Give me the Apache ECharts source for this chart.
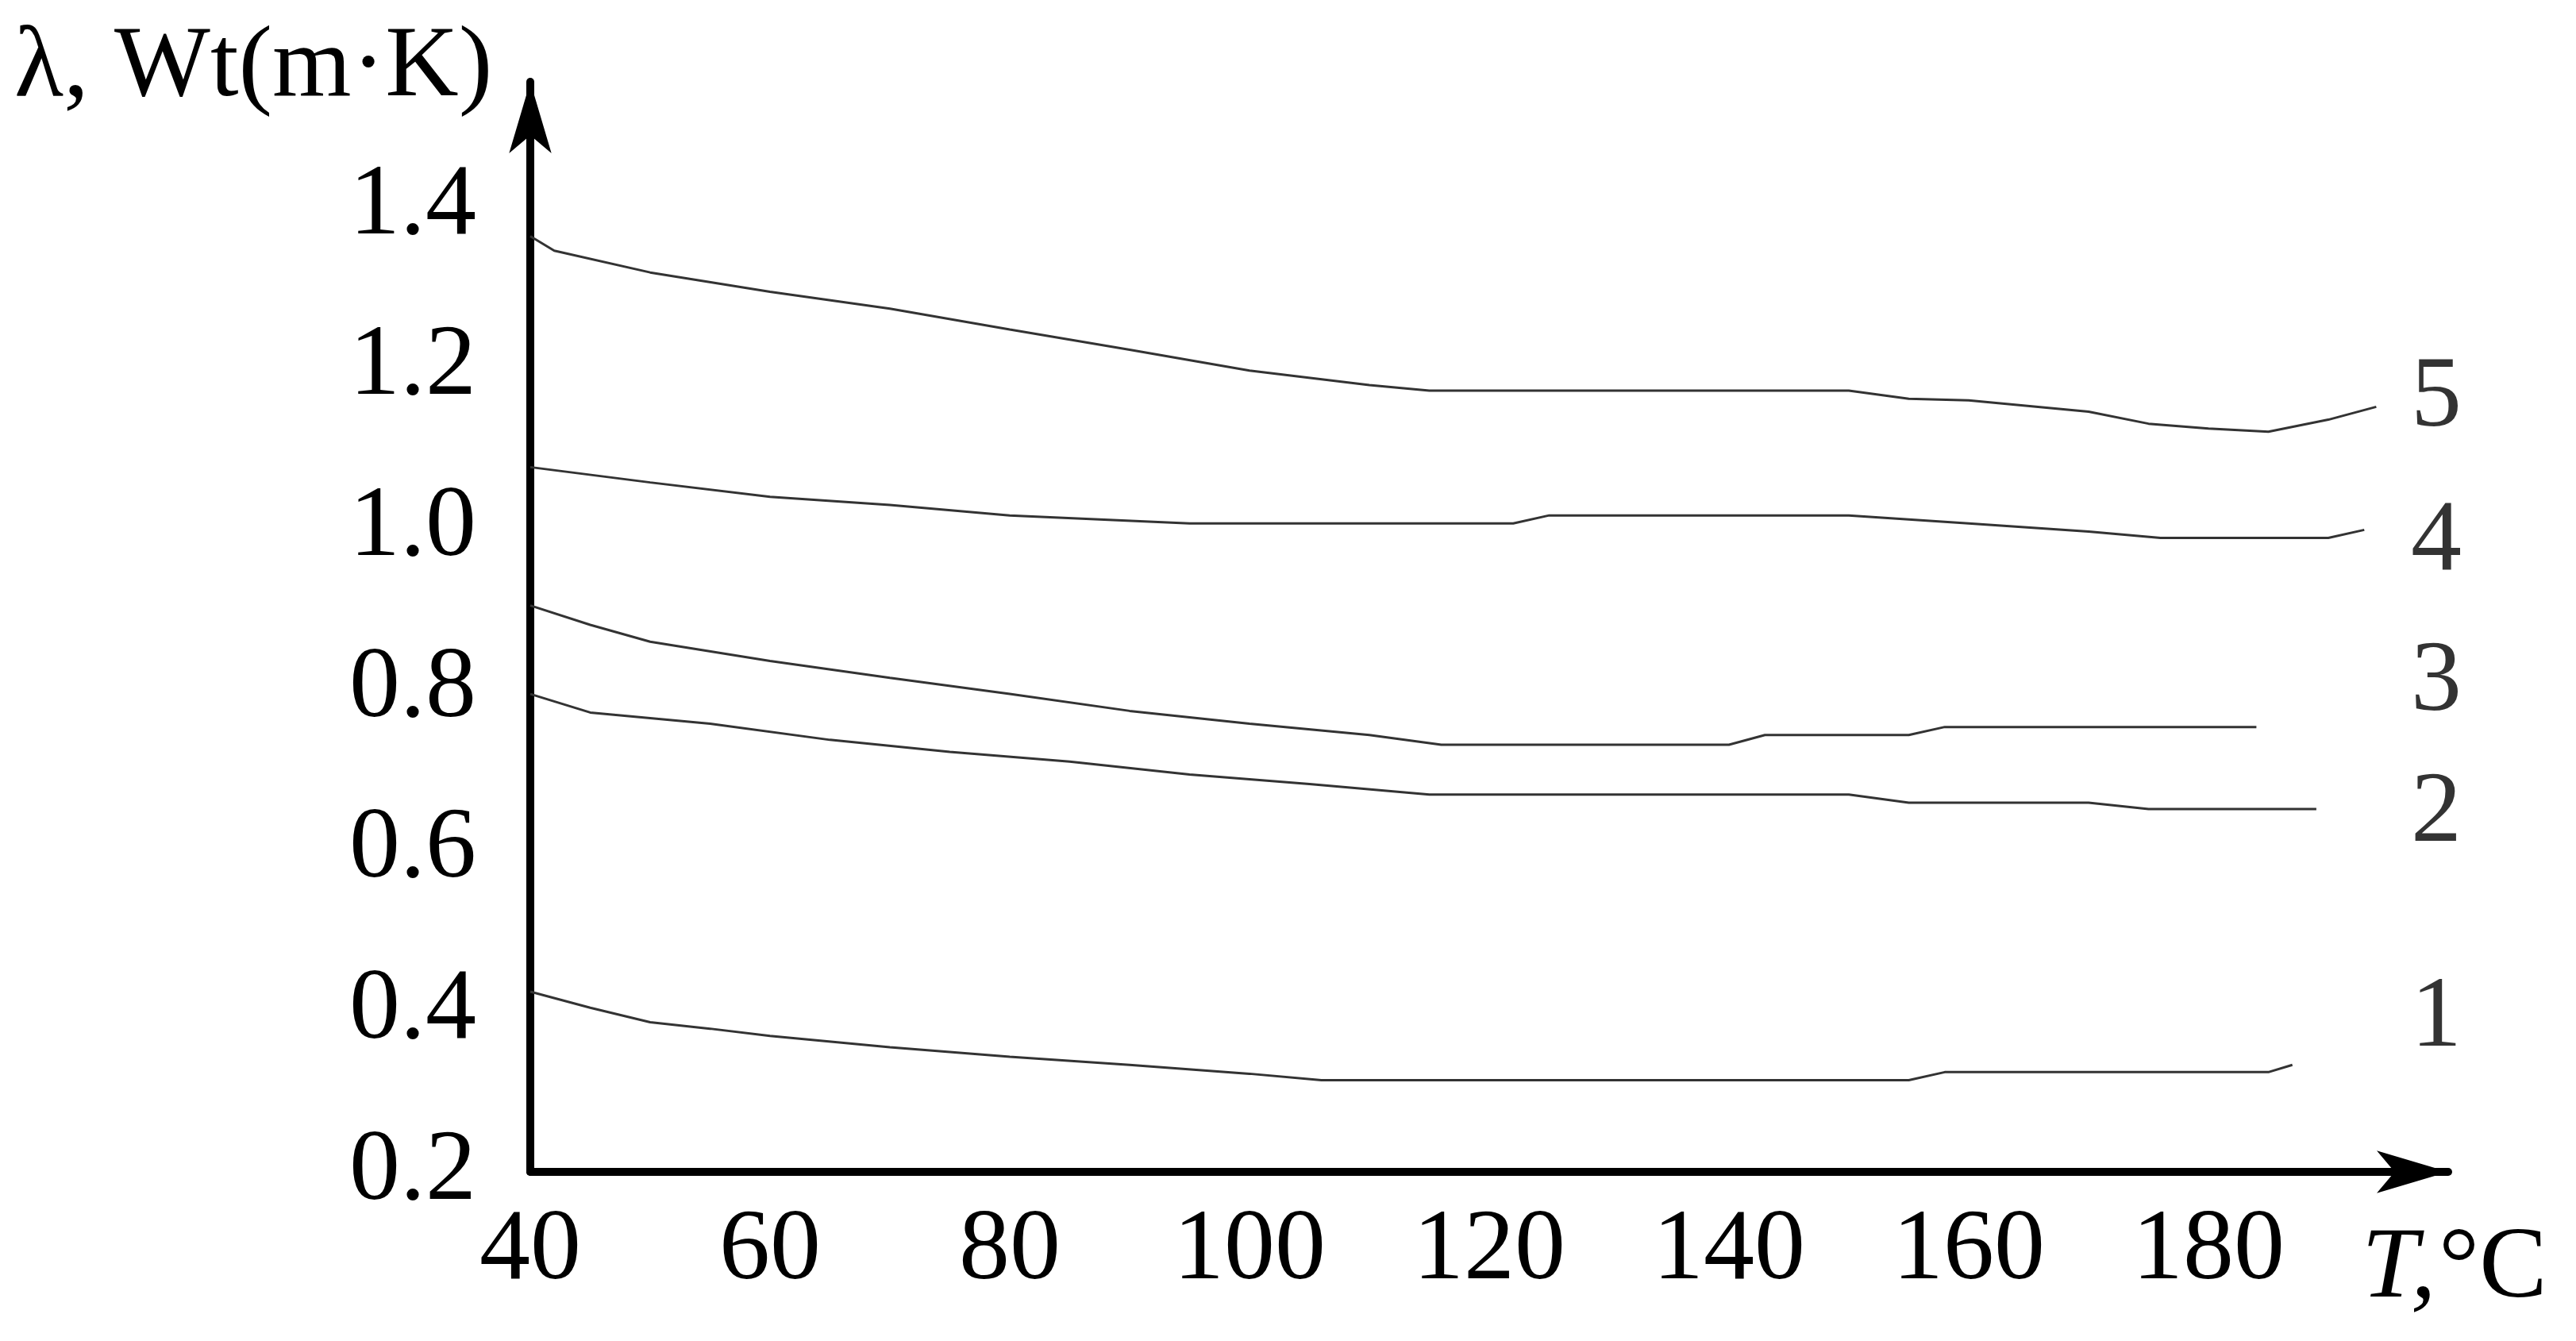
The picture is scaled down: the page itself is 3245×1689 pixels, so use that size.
<!DOCTYPE html>
<html><head><meta charset="utf-8">
<script src="https://cdn.jsdelivr.net/npm/echarts@6/dist/echarts.min.js"></script>
<style>html,body{margin:0;background:#fff}#c{width:3245px;height:1689px}</style>
</head><body><div id="c"></div>
<script>
const curve1 = [[40,0.424],[45,0.404],[50,0.386],[55,0.378],[60,0.369],[70,0.355],[80,0.343],[90,0.333],[100,0.322],[106,0.314],[155,0.314],[158,0.324],[185,0.324],[187,0.333]];
const curve2 = [[40,0.794],[45,0.771],[55,0.757],[65,0.737],[75,0.722],[85,0.71],[95,0.694],[105,0.682],[115,0.669],[150,0.669],[155,0.659],[170,0.659],[175,0.651],[189,0.651]];
const curve3 = [[40,0.904],[45,0.88],[50,0.859],[60,0.835],[70,0.814],[80,0.794],[90,0.773],[100,0.757],[110,0.743],[116,0.731],[140,0.731],[143,0.743],[155,0.743],[158,0.753],[184,0.753]];
const curve4 = [[40,1.076],[50,1.057],[60,1.039],[70,1.029],[80,1.016],[95,1.006],[122,1.006],[125,1.016],[150,1.016],[160,1.006],[170,0.996],[176,0.988],[190,0.988],[193,0.998]];
const curve5 = [[40,1.363],[42,1.345],[50,1.318],[60,1.294],[70,1.273],[80,1.247],[90,1.222],[100,1.196],[110,1.178],[115,1.171],[150,1.171],[155,1.161],[160,1.159],[170,1.145],[175,1.13],[180,1.124],[185,1.12],[190,1.135],[194,1.151]];
const curveLabels = [[199,1.161,'5'],[199,0.982,'4'],[199,0.808,'3'],[199,0.645,'2'],[199,0.39,'1']];
const xTicks = [40,60,80,100,120,140,160,180];
const yTicks = [0.2,0.4,0.6,0.8,1.0,1.2,1.4];

const font = 'Liberation Serif';
const chart = echarts.init(document.getElementById('c'));
const lineS = d => ({type:'line',data:d,symbol:'none',lineStyle:{color:'#333',width:3},silent:true});
chart.setOption({
  animation:false,
  grid:{left:668,right:161,top:103,bottom:213},
  xAxis:{type:'value',min:40,max:200,interval:20,
    axisLine:{lineStyle:{color:'#000',width:10},symbol:['none','arrow'],symbolSize:[40,90]},
    axisTick:{show:false},splitLine:{show:false},
    axisLabel:{fontFamily:font,fontSize:128,color:'#000',margin:36,
      formatter:v=>xTicks.includes(v)?String(v):''}},
  yAxis:{type:'value',min:0.2,max:1.555,interval:0.2,
    axisLine:{show:true,lineStyle:{color:'#000',width:10},symbol:['none','arrow'],symbolSize:[40,90]},
    axisTick:{show:false},splitLine:{show:false},
    axisLabel:{fontFamily:font,fontSize:128,color:'#000',margin:68,
      formatter:v=>{const t=yTicks.find(y=>Math.abs(y-v)<1e-6);return t!==undefined?t.toFixed(1):'';}}},
  series:[lineS(curve1),lineS(curve2),lineS(curve3),lineS(curve4),lineS(curve5),
    {type:'scatter',symbolSize:0,data:curveLabels.map(l=>({value:[l[0],l[1]],name:l[2]})),
     label:{show:true,position:'inside',formatter:p=>p.name,fontFamily:font,fontSize:128,color:'#000'}}],
  graphic:[
    {type:'text',left:18,top:22,style:{text:'λ, Wt(m·K)',font:'128px "Liberation Serif"',fill:'#000'}},
    {type:'text',left:2975,top:1535,style:{rich:{i:{fontFamily:font,fontStyle:'italic',fontSize:128},n:{fontFamily:font,fontSize:128}},text:'{i|T,} {n|°C}',fill:'#000'}}
  ]
});
</script></body></html>
